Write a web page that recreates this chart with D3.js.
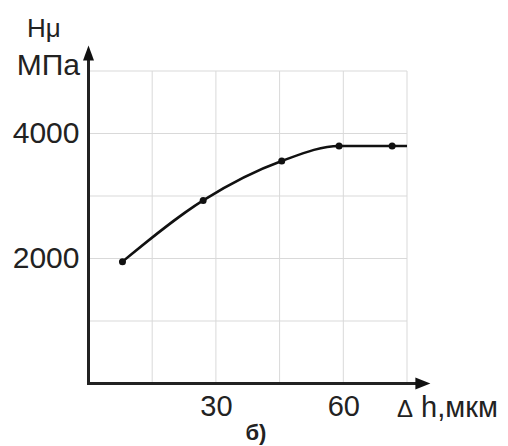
<!DOCTYPE html>
<html>
<head>
<meta charset="utf-8">
<script src="https://cdn.jsdelivr.net/npm/d3@7"></script>
<style>
  html, body { margin: 0; padding: 0; background: #fff; }
  svg { display: block; }
  text { font-family: "Liberation Sans", Arial, sans-serif; fill: #222; }
</style>
</head>
<body>
<div id="chart"></div>
<script>
// measured points (Δh, мкм -> Hμ, МПа)
const depth = [8, 27, 45.5, 59, 71.5]
const hardness = [1950, 2930, 3560, 3800, 3800]
// curve keeps going flat past the last marker
const lineEnd = { x: 75, y: 3800 }

const xTicks = [30, 60]
const yTicks = [2000, 4000]
const xGrid = [15, 30, 45, 60, 75]
const yGrid = [1000, 2000, 3000, 4000, 5000]

const width = 508
const height = 446

let svg = d3.select('#chart').append('svg')
  .attr('width', width)
  .attr('height', height)

let x = d3.scaleLinear().domain([0, 75]).range([88.5, 407])
let y = d3.scaleLinear().domain([0, 5000]).range([383.5, 71])

// grid
let grid = svg.append('g')
  .attr('stroke', '#d9d9d9')
  .attr('stroke-width', 1)
grid.selectAll('.vg')
  .data(xGrid)
  .join('line')
  .attr('x1', (d) => x(d))
  .attr('x2', (d) => x(d))
  .attr('y1', y(0))
  .attr('y2', y(5000))
grid.selectAll('.hg')
  .data(yGrid)
  .join('line')
  .attr('x1', x(0))
  .attr('x2', x(75))
  .attr('y1', (d) => y(d))
  .attr('y2', (d) => y(d))

// tick labels via axes, no tick marks or domain line
let xAxis = svg.append('g')
  .attr('transform', `translate(0,${y(0)})`)
  .call(d3.axisBottom(x).tickValues(xTicks).tickFormat(d3.format('d')).tickSize(0).tickPadding(12))
xAxis.select('.domain').remove()
xAxis.selectAll('text')
  .attr('font-size', 29)
  .attr('font-family', '"Liberation Sans", Arial, sans-serif')
  .attr('fill', '#222')

let yAxis = svg.append('g')
  .attr('transform', `translate(${x(0)},0)`)
  .call(d3.axisLeft(y).tickValues(yTicks).tickFormat(d3.format('d')).tickSize(0).tickPadding(9))
yAxis.select('.domain').remove()
yAxis.selectAll('text')
  .attr('font-size', 30)
  .attr('dy', '0.3em')
  .attr('font-family', '"Liberation Sans", Arial, sans-serif')
  .attr('fill', '#222')

// axis lines with arrows
let xTip = x(80.5)
let yTip = y(5410)
svg.append('line')
  .attr('x1', x(0) - 1.5).attr('x2', xTip - 10)
  .attr('y1', y(0)).attr('y2', y(0))
  .attr('stroke', '#222').attr('stroke-width', 3)
svg.append('path')
  .attr('d', `M${xTip},${y(0)} L${xTip - 15},${y(0) - 6} L${xTip - 15},${y(0) + 6} Z`)
  .attr('fill', '#111')
svg.append('line')
  .attr('x1', x(0)).attr('x2', x(0))
  .attr('y1', y(0) + 1.5).attr('y2', yTip + 10)
  .attr('stroke', '#222').attr('stroke-width', 3)
svg.append('path')
  .attr('d', `M${x(0)},${yTip} L${x(0) - 5.5},${yTip + 15} L${x(0) + 5.5},${yTip + 15} Z`)
  .attr('fill', '#111')

// curve
let pts = depth.map((d, i) => ({ x: d, y: hardness[i] }))
let line = d3.line()
  .x((d) => x(d.x))
  .y((d) => y(d.y))
  .curve(d3.curveMonotoneX)
svg.append('path')
  .datum(pts.concat([lineEnd]))
  .attr('d', line)
  .attr('fill', 'none')
  .attr('stroke', '#111')
  .attr('stroke-width', 2.5)

svg.selectAll('.dot')
  .data(pts)
  .join('circle')
  .attr('cx', (d) => x(d.x))
  .attr('cy', (d) => y(d.y))
  .attr('r', 3.5)
  .attr('fill', '#111')

// axis titles
svg.append('text')
  .attr('x', 27).attr('y', 37)
  .attr('font-size', 26)
  .text('Hμ')
svg.append('text')
  .attr('x', 80).attr('y', 75)
  .attr('text-anchor', 'end')
  .attr('font-size', 30)
  .text('МПа')
let xt = svg.append('text')
  .attr('x', 397).attr('y', 417)
  .attr('font-size', 29)
xt.append('tspan').attr('font-size', 24).text('Δ')
xt.append('tspan').text(' h,мкм')

svg.append('text')
  .attr('x', 256).attr('y', 440)
  .attr('text-anchor', 'middle')
  .attr('font-size', 22)
  .attr('font-weight', 'bold')
  .text('б)')
</script>
</body>
</html>
